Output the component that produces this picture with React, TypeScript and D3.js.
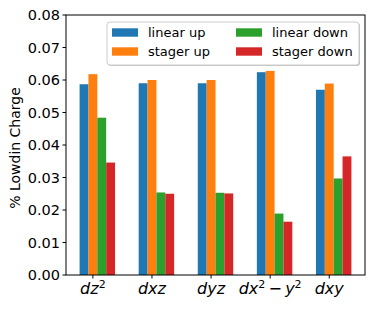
import * as d3 from "d3";
import React from "react";

const categories = ["dz2", "dxz", "dyz", "dx2-y2", "dxy"];
const seriesNames = ["linear up", "stager up", "linear down", "stager down"];
const linearUp = [0.0587, 0.059, 0.059, 0.0624, 0.057];
const stagerUp = [0.0618, 0.06, 0.06, 0.0628, 0.0589];
const linearDown = [0.0484, 0.0254, 0.0253, 0.0189, 0.0297];
const stagerDown = [0.0346, 0.025, 0.0251, 0.0164, 0.0365];
const yTicks = [0, 0.01, 0.02, 0.03, 0.04, 0.05, 0.06, 0.07, 0.08];
const colors = ["#1f77b4", "#ff7f0e", "#2ca02c", "#d62728"];

const series = [linearUp, stagerUp, linearDown, stagerDown];
const barW = 0.15;
const offsets = [-1, 0, 1, 2];

const left = 66;
const right = 365;
const top = 15;
const bottom = 275;

const mathFont = "DejaVu Sans";

// category labels written as mathtext-like tspans
const Label = ({ name, x }: { name: string; x: number }) => {
  const it = { fontStyle: "italic" as const };
  let parts: React.ReactNode;
  if (name === "dz2") {
    parts = (
      <>
        <tspan {...it}>dz</tspan>
        <tspan fontSize={11} dy={-6}>2</tspan>
      </>
    );
  } else if (name === "dx2-y2") {
    parts = (
      <>
        <tspan {...it}>dx</tspan>
        <tspan fontSize={11} dy={-6}>2</tspan>
        <tspan dy={6}>{"\u2009\u2212\u2009"}</tspan>
        <tspan {...it}>y</tspan>
        <tspan fontSize={11} dy={-6}>2</tspan>
      </>
    );
  } else {
    parts = <tspan {...it}>{name}</tspan>;
  }
  return (
    <text x={x} y={294} textAnchor="middle" fontSize={16} fontFamily={mathFont} fill="#000">
      {parts}
    </text>
  );
};

export default function App() {
  const x = d3.scaleLinear().domain([-0.455, 4.605]).range([left, right]);
  const y = d3.scaleLinear().domain([0, 0.08]).range([bottom, top]);

  return (
    <svg
      width={374}
      height={312}
      style={{ position: "absolute", left: 0, top: 0, background: "#fff" }}
      fontFamily="DejaVu Sans"
    >
      <rect width={374} height={312} fill="#fff" />
      {/* bars */}
      {series.map((vals, si) =>
        vals.map((v, ci) => {
          const x0 = x(ci + offsets[si] * barW - barW / 2);
          const x1 = x(ci + offsets[si] * barW + barW / 2);
          return (
            <rect
              key={`${si}-${ci}`}
              x={x0}
              y={y(v)}
              width={x1 - x0}
              height={y(0) - y(v)}
              fill={colors[si]}
            />
          );
        })
      )}
      {/* frame */}
      <rect x={left} y={top} width={right - left} height={bottom - top} fill="none" stroke="#000" strokeWidth={1} />
      {/* y ticks */}
      {yTicks.map((t) => (
        <g key={t}>
          <line x1={left - 3.5} x2={left} y1={y(t)} y2={y(t)} stroke="#000" />
          <text x={left - 6} y={y(t)} dy="0.35em" textAnchor="end" fontSize={14.5} fill="#000">
            {t.toFixed(2)}
          </text>
        </g>
      ))}
      {/* x ticks */}
      {categories.map((c, i) => (
        <g key={c}>
          <line x1={x(i)} x2={x(i)} y1={bottom} y2={bottom + 3.5} stroke="#000" />
          <Label name={c} x={x(i)} />
        </g>
      ))}
      <text
        transform="translate(20,148) rotate(-90)"
        textAnchor="middle"
        fontSize={14}
        fill="#000"
      >
        % Lowdin Charge
      </text>
      {/* legend */}
      <rect x={108} y={23} width={252} height={43} rx={3} fill="#888" opacity={0.5} />
      <rect x={107} y={22} width={252} height={43} rx={3} fill="#fff" stroke="#ccc" />
      {seriesNames.map((n, i) => {
        const col = Math.floor(i / 2);
        const row = i % 2;
        const lx = col === 0 ? 112 : 236;
        const ly = row === 0 ? 32.5 : 51.5;
        return (
          <g key={n}>
            <rect x={lx} y={ly - 4.2} width={26} height={8.4} fill={colors[i]} />
            <text x={lx + 36} y={ly} dy="0.35em" fontSize={13} fill="#000">
              {n}
            </text>
          </g>
        );
      })}
    </svg>
  );
}
